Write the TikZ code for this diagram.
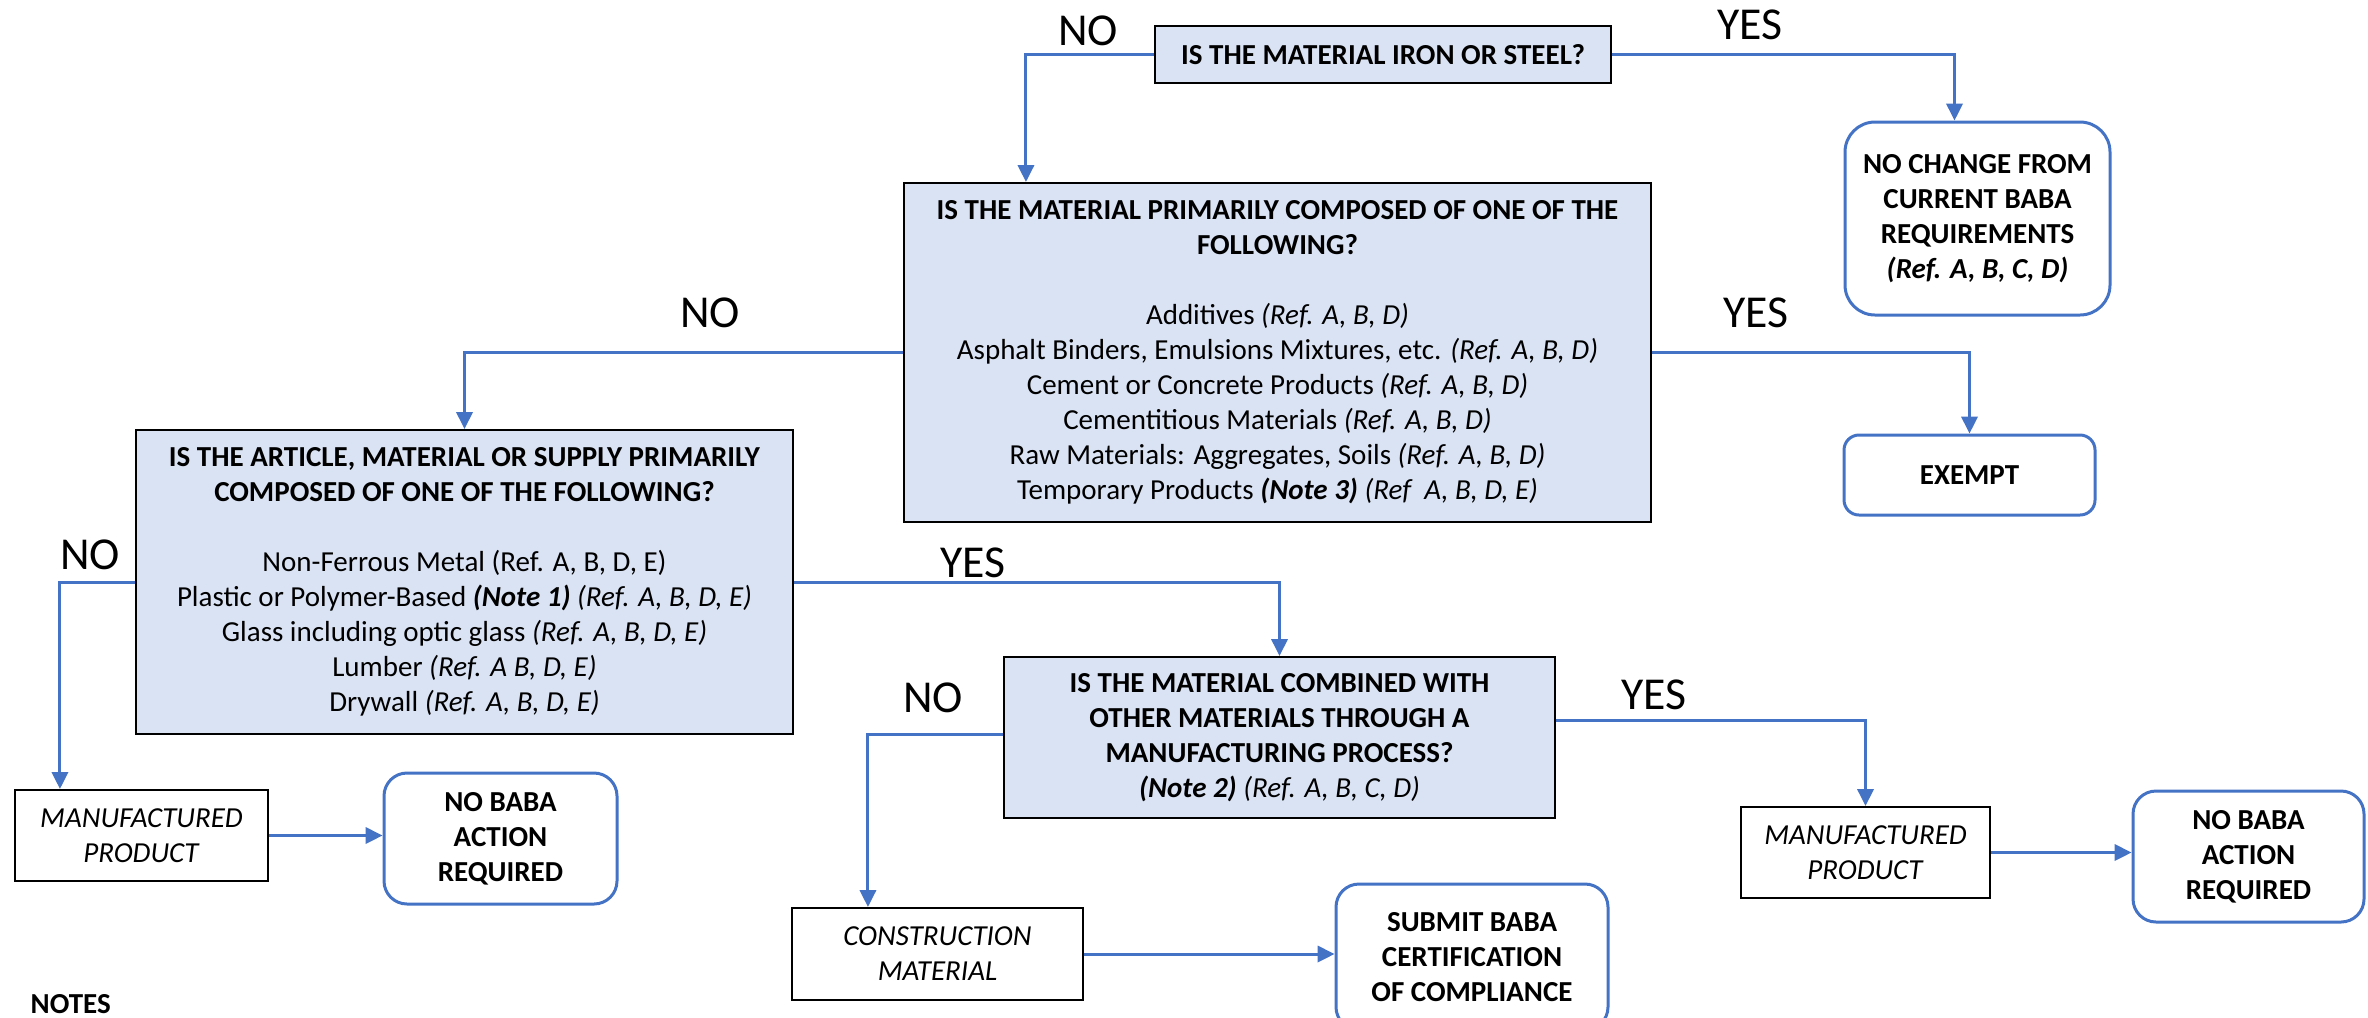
\documentclass[tikz,border=0pt]{standalone}
\usepackage{fontspec}
\setmainfont{Carlito}
\usetikzlibrary{arrows.meta,calc}
\definecolor{qfill}{HTML}{DAE3F3}
\definecolor{lnblue}{HTML}{4472C4}
\tikzset{
 txt/.style={font=\fontsize{8.25pt}{9.96pt}\selectfont, align=center},
 qbox/.style={txt, draw=black, line width=0.6pt, fill=qfill, inner sep=0pt},
 term/.style={txt, draw=lnblue, line width=0.85pt, rounded corners=2.3mm, fill=white, inner sep=0pt},
 pbox/.style={txt, draw=black, line width=0.6pt, fill=white, inner sep=0pt},
 conn/.style={draw=lnblue, line width=0.85pt, -{Triangle[length=4.8pt,width=4.6pt]}},
 lbl/.style={font=\fontsize{13pt}{15pt}\selectfont, inner sep=0pt},
}
\begin{document}
\begin{tikzpicture}[x=0.1mm,y=-0.1mm]
\useasboundingbox (0,0) rectangle (2368,1017);
\clip (0,0) rectangle (2368,1017);

\node[qbox, minimum width=45.6mm, minimum height=5.7mm] (iron) at (1383,54.5) {\textbf{IS THE MATERIAL IRON OR STEEL?}};

\node[qbox, minimum width=74.7mm, minimum height=33.9mm] (mat) at (1277.5,352.5) {\textbf{IS THE MATERIAL PRIMARILY COMPOSED OF ONE OF THE}\\\textbf{FOLLOWING?}\\[3.5mm]
Additives \textit{(Ref. A, B, D)}\\
Asphalt Binders, Emulsions Mixtures, etc. \textit{(Ref. A, B, D)}\\
Cement or Concrete Products \textit{(Ref. A, B, D)}\\
Cementitious Materials \textit{(Ref. A, B, D)}\\
Raw Materials: Aggregates, Soils \textit{(Ref. A, B, D)}\\
Temporary Products \textbf{\textit{(Note 3)}} \textit{(Ref~~A, B, D, E)}};

\node[term, rounded corners=3mm, minimum width=26.5mm, minimum height=19.3mm] (nochange) at (1977.5,218.5) {\textbf{NO CHANGE FROM}\\\textbf{CURRENT BABA}\\\textbf{REQUIREMENTS}\\\textbf{\textit{(Ref. A, B, C, D)}}};

\node[term, rounded corners=1.5mm, minimum width=25.1mm, minimum height=8mm] (exempt) at (1969.5,475) {\textbf{EXEMPT}};

\node[qbox, minimum width=65.7mm, minimum height=30.4mm] (art) at (464.5,582) {\textbf{IS THE ARTICLE, MATERIAL OR SUPPLY PRIMARILY}\\\textbf{COMPOSED OF ONE OF THE FOLLOWING?}\\[3.5mm]
Non-Ferrous Metal (Ref. A, B, D, E)\\
Plastic or Polymer-Based \textbf{\textit{(Note 1)}} \textit{(Ref. A, B, D, E)}\\
Glass including optic glass \textit{(Ref. A, B, D, E)}\\
Lumber \textit{(Ref. A B, D, E)}\\
Drywall \textit{(Ref. A, B, D, E)}};

\node[qbox, minimum width=55.1mm, minimum height=16.1mm] (comb) at (1279.5,737.5) {\textbf{IS THE MATERIAL COMBINED WITH}\\\textbf{OTHER MATERIALS THROUGH A}\\\textbf{MANUFACTURING PROCESS?}\\\textbf{\textit{(Note 2)}} \textit{(Ref. A, B, C, D)}};

\node[pbox, minimum width=25.3mm, minimum height=9.1mm] (manu1) at (141.5,835.5) {\textit{MANUFACTURED}\\\textit{PRODUCT}};
\node[term, minimum width=23.3mm, minimum height=13.1mm] (noact1) at (500.5,838.5) {\textbf{NO BABA}\\\textbf{ACTION}\\\textbf{REQUIRED}};

\node[pbox, minimum width=29.1mm, minimum height=9.2mm] (constr) at (937.5,954) {\textit{CONSTRUCTION}\\\textit{MATERIAL}};
\node[term, minimum width=27.2mm, minimum height=14.6mm] (submit) at (1472,957) {\textbf{SUBMIT BABA}\\\textbf{CERTIFICATION}\\\textbf{OF COMPLIANCE}};

\node[pbox, minimum width=24.9mm, minimum height=9.1mm] (manu2) at (1865.5,852.5) {\textit{MANUFACTURED}\\\textit{PRODUCT}};
\node[term, minimum width=23.1mm, minimum height=13.1mm] (noact2) at (2248.5,856.5) {\textbf{NO BABA}\\\textbf{ACTION}\\\textbf{REQUIRED}};

\draw[conn] (iron.west) -| ($(mat.north west)+(123,0)$);
\draw[conn] (iron.east) -| ($(nochange.north west)+(111,0)$);
\draw[conn] (mat.west) -| (art.north);
\draw[conn] (mat.east) -| (exempt.north);
\draw[conn] (art.west) -| ($(manu1.north west)+(46,0)$);
\draw[conn] (art.east) -| (comb.north);
\draw[conn] ($(comb.west)+(0,-3.5)$) -| ($(constr.north west)+(77,0)$);
\draw[conn] ($(comb.east)+(0,-17.5)$) -| (manu2.north);
\draw[conn] (manu1.east) -- (manu1.east -| noact1.west);
\draw[conn] (constr.east) -- (constr.east -| submit.west);
\draw[conn] (manu2.east) -- (manu2.east -| noact2.west);

\node[lbl] (lno1) at (1088,31) {NO};
\node[lbl] (lyes1) at (1750,25) {YES};
\node[lbl] (lno2) at (710,313) {NO};
\node[lbl] (lyes2) at (1756,313) {YES};
\node[lbl] (lno3) at (90,555) {NO};
\node[lbl] (lyes3) at (973,563) {YES};
\node[lbl] (lno4) at (933,698) {NO};
\node[lbl] (lyes4) at (1654,695) {YES};
\node[txt, anchor=west, inner sep=0pt] (notes) at (30,1004) {\textbf{NOTES}};
\end{tikzpicture}
\end{document}
